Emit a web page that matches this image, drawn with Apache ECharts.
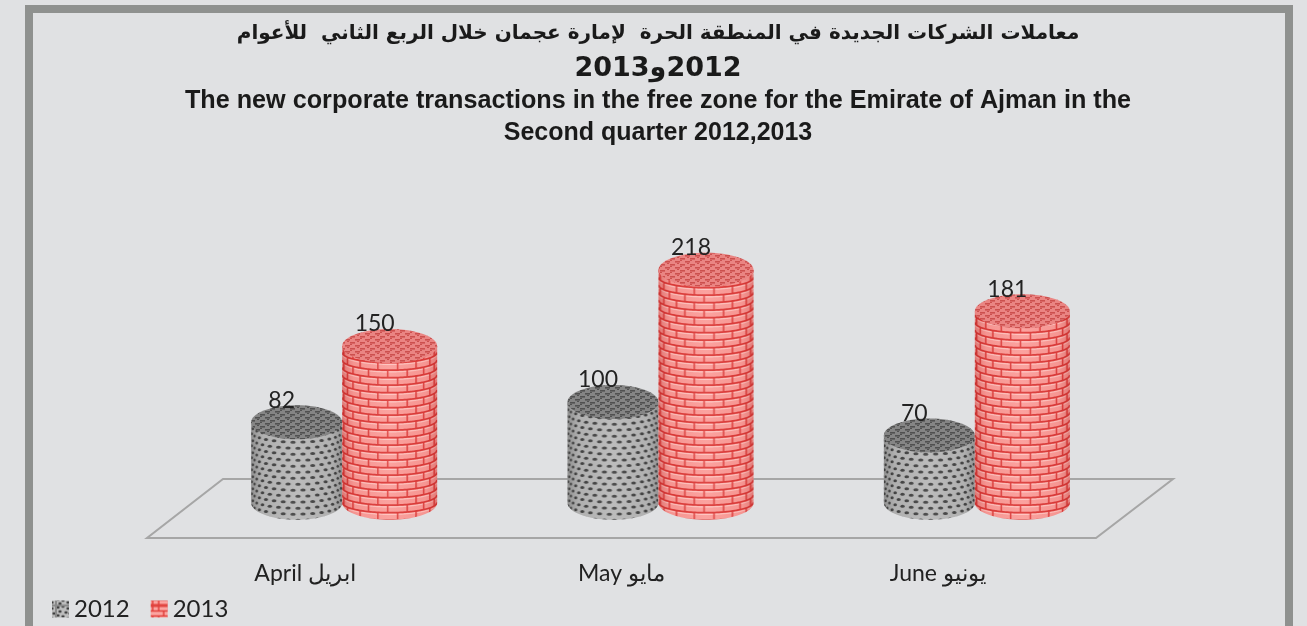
<!DOCTYPE html>
<html><head><meta charset="utf-8">
<style>html,body{margin:0;padding:0;background:#e0e1e3}#c{width:1307px;height:626px}</style>
<script src="https://cdn.jsdelivr.net/npm/echarts@6/dist/echarts.min.js"></script>
</head><body><div id="c"></div>
<script>
const categories = ['April ابريل', 'May مايو', 'June يونيو'];
const seriesNames = ['2012', '2013'];
const values2012 = [82, 100, 70];
const values2013 = [150, 218, 181];
const titleLines = [
  'معاملات الشركات الجديدة في المنطقة الحرة  لإمارة عجمان خلال الربع الثاني  للأعوام',
  '\u202B2012و2013\u202C',
  'The new corporate transactions in the free zone for the Emirate of Ajman in the',
  'Second quarter 2012,2013'
];
const FLOOR_VALUE = 10, RY = 17, DEPTH_DX = { '2012': -8.5, '2013': 84.5 }, WIDTH = { '2012': 91, '2013': 95 };

function canvas(w, h) { const c = document.createElement('canvas'); c.width = w; c.height = h; return c; }
function rowY(x, w) { const u = (x - w / 2) / (w / 2); return RY * Math.sqrt(Math.max(0, 1 - u * u)) * 0.6; }

function brickSide(w) {
  const rowH = 7.5, period = 15, c = canvas(w, period), g = c.getContext('2d');
  g.filter = 'blur(0.5px)';
  g.fillStyle = '#fb9d99'; g.fillRect(0, 0, w, period);
  for (let r = -6; r <= 6; r++) {
    const y0 = r * rowH;
    g.beginPath();
    for (let x = 0; x <= w; x += 1) { const y = y0 + rowY(x, w) + 1.7; x ? g.lineTo(x, y) : g.moveTo(x, y); }
    g.strokeStyle = 'rgba(255,200,195,.9)'; g.lineWidth = 1.2; g.stroke();
    g.beginPath();
    for (let x = 0; x <= w; x += 1) { const y = y0 + rowY(x, w); x ? g.lineTo(x, y) : g.moveTo(x, y); }
    g.strokeStyle = '#dc3b39'; g.lineWidth = 1.7; g.stroke();
    const step = 0.42, off = ((r % 2) + 2) % 2 ? step / 2 : 0;
    g.beginPath();
    for (let th = -1.3 + off; th < 1.35; th += step) {
      const x = w / 2 + w / 2 * Math.sin(th), y = y0 + rowY(x, w);
      g.moveTo(x, y); g.lineTo(x, y + rowH);
    }
    g.strokeStyle = '#dc3b39'; g.lineWidth = 1.5; g.stroke();
  }
  return c;
}
function dotSide(w) {
  const rowH = 6, period = 12, c = canvas(w, period), g = c.getContext('2d');
  g.filter = 'blur(0.6px)';
  g.fillStyle = '#b8b8b8'; g.fillRect(0, 0, w, period);
  g.fillStyle = '#444';
  const step = 0.22;
  for (let r = -6; r <= 6; r++) {
    const off = ((r % 2) + 2) % 2 ? step / 2 : 0;
    for (let th = -1.4 + off; th < 1.45; th += step) {
      const x = w / 2 + w / 2 * Math.sin(th), y = r * rowH + rowY(x, w);
      g.beginPath(); g.ellipse(x, y, 2.7 * Math.max(.4, Math.cos(th)), 1.5, 0, 0, 7); g.fill();
    }
  }
  return c;
}
function topTile(bg, fg) {
  const c = canvas(10, 6), g = c.getContext('2d');
  g.filter = 'blur(0.4px)';
  g.fillStyle = bg; g.fillRect(0, 0, 10, 6);
  g.fillStyle = fg;
  g.fillRect(0, 0, 5, 1.6); g.fillRect(5, 3, 5, 1.6);
  g.fillRect(0, 2, 2, 1); g.fillRect(7, 5, 2, 1);
  return c;
}
function swatch(kind) {
  const c = canvas(16, 16), g = c.getContext('2d');
  if (kind === '2012') {
    g.fillStyle = '#bdbdbd'; g.fillRect(0, 0, 16, 16);
    g.fillStyle = '#3f3f3f';
    [[2,2],[7,1],[12,3],[4,6],[10,7],[14,8],[2,10],[7,11],[12,13],[4,14]].forEach(p => { g.beginPath(); g.ellipse(p[0], p[1], 1.7, 1.3, 0, 0, 7); g.fill(); });
    g.strokeStyle = '#8a8a8a'; g.strokeRect(.5, .5, 15, 15);
  } else {
    g.fillStyle = '#fba6a2'; g.fillRect(0, 0, 16, 16);
    g.strokeStyle = '#e0403c'; g.lineWidth = 1.5;
    [.8, 5.5, 10.5, 15.2].forEach(y => { g.beginPath(); g.moveTo(0, y); g.lineTo(16, y); g.stroke(); });
    g.beginPath(); g.moveTo(8, 5.5); g.lineTo(8, 10.5); g.moveTo(3, 0); g.lineTo(3, 5.5); g.moveTo(13, 0); g.lineTo(13, 5.5); g.moveTo(3, 10.5); g.lineTo(3, 16); g.moveTo(13, 10.5); g.lineTo(13, 16); g.stroke();
  }
  return c;
}
const sideTex = { '2012': dotSide(WIDTH['2012']), '2013': brickSide(WIDTH['2013']) };
const topTex = { '2012': topTile('#858585', '#515151'), '2013': topTile('#ea8583', '#cc504e') };
const edge = { '2012': '40,40,40', '2013': '150,20,20' };

function cylinder(name) {
  return function (params, api) {
    const i = api.value(0), v = api.value(1);
    const top = api.coord([i, v]), base = api.coord([i, FLOOR_VALUE]);
    const cx = top[0] + DEPTH_DX[name], rx = WIDTH[name] / 2;
    const pts = [[cx - rx, top[1]], [cx + rx, top[1]]];
    for (let a = 0; a <= 40; a++) {
      const t = a / 40 * Math.PI;
      pts.push([cx + rx * Math.cos(t), base[1] + RY * Math.sin(t)]);
    }
    const e = edge[name];
    const shade = { type: 'linear', x: 0, y: 0, x2: 1, y2: 0, colorStops: [
      { offset: 0, color: 'rgba(' + e + ',.28)' }, { offset: .12, color: 'rgba(' + e + ',.06)' },
      { offset: .5, color: 'rgba(255,255,255,.06)' }, { offset: .88, color: 'rgba(' + e + ',.05)' },
      { offset: 1, color: 'rgba(' + e + ',.25)' }] };
    return { type: 'group', children: [
      { type: 'polygon', shape: { points: pts }, style: { fill: { image: sideTex[name], repeat: 'repeat', x: cx - rx, y: 0 } } },
      { type: 'polygon', shape: { points: pts }, style: { fill: shade } },
      { type: 'ellipse', shape: { cx: cx, cy: top[1], rx: rx, ry: RY }, style: { fill: { image: topTex[name], repeat: 'repeat' } } },
      { type: 'text', x: cx - 15, y: top[1] - 22, z2: 10, style: { text: String(v), fill: '#222', font: '23px Lato', align: 'center', verticalAlign: 'middle' } }
    ] };
  };
}

const chart = echarts.init(document.getElementById('c'), null, { renderer: 'canvas' });
const titleCommon = { left: 658, textAlign: 'center', textStyle: { color: '#1a1a1a', fontWeight: 'bold' }, padding: 0 };
chart.setOption({
  animation: false,
  backgroundColor: '#e0e1e3',
  title: [
    { ...titleCommon, text: titleLines[0], top: 24, textStyle: { ...titleCommon.textStyle, fontSize: 20, fontFamily: 'DejaVu Sans' } },
    { ...titleCommon, text: titleLines[1], top: 55, textStyle: { ...titleCommon.textStyle, fontSize: 27, fontFamily: 'DejaVu Sans' } },
    { ...titleCommon, text: titleLines[2], top: 89, textStyle: { ...titleCommon.textStyle, fontSize: 25.2, fontFamily: 'Liberation Sans' } },
    { ...titleCommon, text: titleLines[3], top: 121, textStyle: { ...titleCommon.textStyle, fontSize: 25, fontFamily: 'Liberation Sans' } }
  ],
  legend: {
    left: 52, top: 597, itemWidth: 17, itemHeight: 17, itemGap: 21, icon: 'rect', padding: 0,
    textStyle: { fontFamily: 'Lato', fontSize: 24, color: '#222', padding: [0, 0, 0, 0] },
    data: [
      { name: seriesNames[0], itemStyle: { color: { image: swatch('2012'), repeat: 'repeat', x: 52, y: 597 } } },
      { name: seriesNames[1], itemStyle: { color: { image: swatch('2013'), repeat: 'repeat', x: 149, y: 597 } } }
    ]
  },
  grid: { left: 147, width: 949, top: 234, height: 280 },
  xAxis: { type: 'category', data: categories, axisLine: { show: false }, axisTick: { show: false },
    axisLabel: { margin: 48, fontFamily: 'Lato', fontSize: 23, color: '#222' } },
  yAxis: { type: 'value', min: 0, max: 250, show: false, splitLine: { show: false } },
  graphic: [
    { type: 'rect', z: -10, shape: { x: 29, y: 9, width: 1260, height: 700 }, style: { fill: 'none', stroke: '#8f918f', lineWidth: 8 } },
    { type: 'polygon', z: -9, shape: { points: [[147, 538], [1096, 538], [1173, 479], [223, 479]] }, style: { fill: 'none', stroke: '#a6a6a6', lineWidth: 2 } }
  ],
  series: [
    { type: 'custom', name: seriesNames[0], coordinateSystem: 'cartesian2d', z: 2, renderItem: cylinder('2012'), encode: { x: 0, y: 1 }, data: values2012.map((v, i) => [i, v]) },
    { type: 'custom', name: seriesNames[1], coordinateSystem: 'cartesian2d', z: 3, renderItem: cylinder('2013'), encode: { x: 0, y: 1 }, data: values2013.map((v, i) => [i, v]) }
  ]
});
</script></body></html>
